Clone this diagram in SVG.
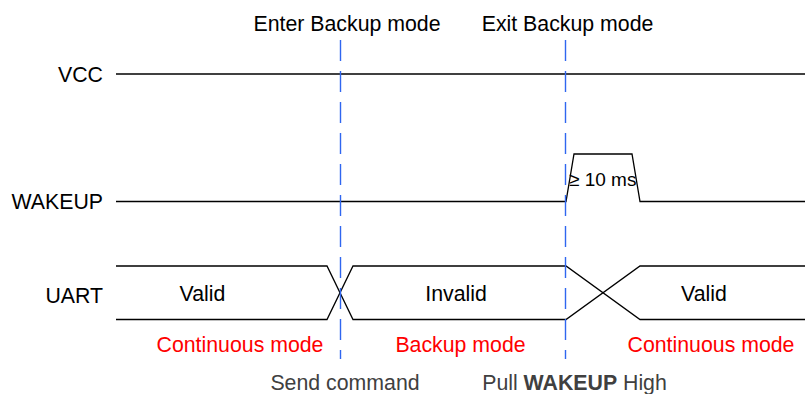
<svg xmlns="http://www.w3.org/2000/svg" width="805" height="394" viewBox="0 0 805 394">
<style>
.sig{fill:none;stroke:#000;stroke-width:1.3}
.dash{stroke:#2f66f0;stroke-width:1.4;stroke-dasharray:21 10}
text{font-family:"Liberation Sans",Arial,sans-serif;font-size:21.3px;fill:#000}
.lbl{text-anchor:end}
.mid{text-anchor:middle}
.red{fill:#ff0000;text-anchor:middle}
.gray{fill:#404040;text-anchor:middle}
</style>
<rect width="805" height="394" fill="#fff"/>
<g id="connectors">
<path id="vcc-line" class="sig" d="M116 74H805"/>
<path id="wakeup-line" class="sig" d="M116 201.5H566L574 154H632L640 201.5H805"/>
<path id="uart-top" class="sig" d="M116 266H327L353 319.5H566L640 266H805"/>
<path id="uart-bottom" class="sig" d="M116 319.5H327L353 266H566L640 319.5H805"/>
<line class="dash" x1="340.5" y1="40" x2="340.5" y2="359"/>
<line class="dash" x1="565.5" y1="40" x2="565.5" y2="359"/>
</g>
<g id="vcc"><text class="lbl" x="103" y="82">VCC</text></g>
<g id="wakeup"><text class="lbl" x="103" y="209">WAKEUP</text></g>
<g id="uart"><text class="lbl" x="103" y="303">UART</text></g>
<g id="enter"><text class="mid" x="347" y="31">Enter Backup mode</text></g>
<g id="exit"><text class="mid" x="567.5" y="31">Exit Backup mode</text></g>
<g id="pulse"><text x="569" y="185.5" style="font-size:19px">≥ 10 ms</text></g>
<g id="valid1"><text class="mid" x="202.5" y="301">Valid</text></g>
<g id="invalid"><text class="mid" x="456" y="301">Invalid</text></g>
<g id="valid2"><text class="mid" x="704" y="301">Valid</text></g>
<g id="cont1"><text class="red" x="240" y="352">Continuous mode</text></g>
<g id="backup"><text class="red" x="460.5" y="352">Backup mode</text></g>
<g id="cont2"><text class="red" x="711" y="352">Continuous mode</text></g>
<g id="send"><text class="gray" x="345" y="390">Send command</text></g>
<g id="pull"><text class="gray" x="574.5" y="390">Pull <tspan font-weight="bold">WAKEUP</tspan> High</text></g>
</svg>
